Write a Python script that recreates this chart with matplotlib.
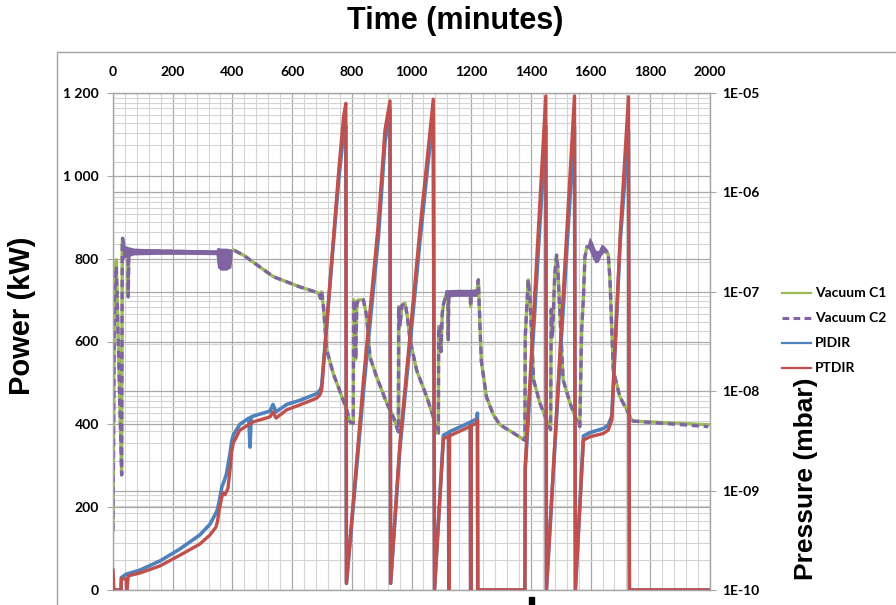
import matplotlib
matplotlib.use("Agg")
import matplotlib.pyplot as plt
import numpy as np
from matplotlib.ticker import FixedLocator, FuncFormatter, NullLocator
from matplotlib.transforms import blended_transform_factory
from matplotlib.lines import Line2D
from matplotlib.patches import Rectangle

plt.rcParams['font.family'] = ['Lato', 'DejaVu Sans']
plt.rcParams['font.weight'] = 'bold'

# ---------------------------------------------------------------- data
# vacuum gauges (mbar, right log axis)
vac_t = [0, 5, 11, 29, 31, 32, 40, 50, 51, 53, 63, 200, 353, 375, 403, 437, 537, 626,
         690, 695, 699, 705, 716, 738, 760, 783, 794, 805, 806, 809, 813, 817, 822, 839,
         850, 861, 883, 917, 939, 956, 957, 961, 968, 978, 985, 995, 1017, 1051, 1073,
         1084, 1090, 1091, 1095, 1099, 1103, 1107, 1118, 1122, 1123, 1125, 1160, 1197,
         1198, 1200, 1218, 1224, 1229, 1234, 1251, 1274, 1296, 1341, 1380, 1381, 1391,
         1397, 1403, 1409, 1430, 1453, 1466, 1468, 1472, 1480, 1486, 1490, 1497, 1508,
         1531, 1553, 1564, 1570, 1576, 1581, 1588, 1600, 1620, 1640, 1659, 1665, 1671,
         1676, 1698, 1721, 1738, 1743, 1994]
vac_c2 = [4.0e-10, 1.0e-7, 1.8e-7, 1.44e-9, 3.0e-7, 3.45e-7, 2.6e-7, 2.55e-7, 8.9e-8, 2.55e-7,
          2.6e-7, 2.55e-7, 2.5e-7, 2.3e-7, 2.64e-7, 2.34e-7, 1.42e-7, 1.12e-7,
          9.7e-8, 8.6e-8, 1.0e-7, 7.1e-8, 2.6e-8, 1.5e-8, 1.0e-8, 6.5e-9, 4.9e-9, 4.75e-9,
          8.3e-8, 8.0e-8, 2.1e-8, 7.5e-8, 8.3e-8, 8.3e-8,
          5.6e-8, 2.2e-8, 1.4e-8, 7.6e-9, 5.5e-9, 3.9e-9, 7.1e-8, 4.5e-8, 7.3e-8, 7.7e-8,
          6.0e-8, 3.3e-8, 1.63e-8, 8.8e-9, 5.5e-9,
          3.8e-9, 3.8e-9, 4.5e-8, 4.5e-8, 2.5e-8, 6.0e-8, 7.5e-8, 9.7e-8, 9.6e-8, 3.3e-8,
          9.6e-8, 9.8e-8, 9.7e-8,
          7.1e-8, 9.6e-8, 9.7e-8, 1.32e-7, 4.8e-8, 2.0e-8, 8.8e-9, 5.8e-9, 4.6e-9, 3.8e-9,
          3.2e-9, 3.5e-8, 1.32e-7,
          8.9e-8, 3.3e-8, 1.3e-8, 7.6e-9, 5.1e-9, 4.1e-9, 6.6e-8, 3.5e-8, 1.5e-7, 2.34e-7,
          1.8e-7, 6.1e-8, 1.3e-8,
          7.6e-9, 5.1e-9, 4.4e-9, 4.1e-8, 8.9e-8, 2.25e-7, 2.84e-7, 2.8e-7, 2.25e-7, 2.7e-7,
          2.4e-7, 1.32e-7, 4.1e-8,
          1.63e-8, 8.8e-9, 6.5e-9, 5.1e-9, 5.0e-9, 4.4e-9]
vac_c1 = list(vac_c2)
vac_c1[2] = 2.1e-7
vac_c1[-1] = 4.6e-9

# noisy stretches of the C2 gauge (upper / lower envelope)
band_a_t = [32, 38, 50, 70, 150, 250, 345, 350, 360, 380, 395, 400]
band_a_hi = [3.4e-7, 2.95e-7, 2.85e-7, 2.75e-7, 2.7e-7, 2.67e-7, 2.64e-7, 2.8e-7, 2.75e-7,
             2.75e-7, 2.7e-7, 2.6e-7]
band_a_lo = [2.0e-7, 2.2e-7, 2.25e-7, 2.35e-7, 2.38e-7, 2.38e-7, 2.36e-7, 1.75e-7, 1.65e-7,
             1.65e-7, 1.75e-7, 2.5e-7]
band_b_t = [1105, 1112, 1150, 1190, 1220]
band_b_hi = [7.0e-8, 1.05e-7, 1.06e-7, 1.06e-7, 1.07e-7]
band_b_lo = [6.0e-8, 8.8e-8, 9.0e-8, 9.0e-8, 9.0e-8]
band_c_t = [1588, 1596, 1606, 1616, 1626, 1636, 1646, 1659]
band_c_hi = [2.9e-7, 3.56e-7, 3.18e-7, 2.64e-7, 2.59e-7, 3.03e-7, 2.9e-7, 2.59e-7]
band_c_lo = [2.9e-7, 2.59e-7, 2.19e-7, 1.95e-7, 2.0e-7, 2.34e-7, 2.52e-7, 2.52e-7]

# power channels (kW, left axis)
ptdir_t = [0, 3, 27, 28, 44, 45, 47, 51, 90, 157, 224, 291, 325, 345, 350, 355, 362, 368,
           375, 385, 392, 398, 403, 425, 470, 526, 536, 546, 582, 626, 682, 693, 699, 733,
           756, 772, 780, 782, 839, 889, 911, 928, 930, 961, 1028, 1051, 1073, 1077, 1107,
           1124, 1125, 1126, 1127, 1197, 1198, 1199, 1200, 1218, 1221, 1222, 1380, 1381,
           1450, 1452, 1492, 1546, 1549, 1576, 1598, 1643, 1659, 1671, 1700, 1727, 1730, 1994]
ptdir = [48, 0, 0, 27, 27, 0, 0, 34, 41, 58, 84, 111, 133, 152, 165, 190, 215, 235,
         230, 245, 290, 335, 355, 386, 406, 418, 430, 415, 435, 447, 463, 471, 483, 800,
         1010, 1140, 1175, 16, 507, 885, 1110, 1181, 16, 354, 869, 1030, 1185, 0, 366,
         370, 0, 0, 372, 395, 0, 0, 396, 403, 410, 0, 0, 300,
         1193, 0, 507, 1193, 0, 362, 370, 378, 386, 410, 869, 1191, 0, 0]

pidir_t = [0, 27, 28, 44, 90, 157, 224, 291, 325, 345, 350, 356, 365, 372, 380, 392, 398,
           403, 425, 455, 459, 463, 470, 526, 536, 546, 582, 626, 682, 693, 699, 733, 756,
           772, 780, 782, 839, 889, 911, 928, 930, 961, 1028, 1051, 1073, 1077, 1107, 1124,
           1125, 1126, 1127, 1197, 1198, 1199, 1200, 1218, 1221, 1222, 1380, 1381, 1450,
           1452, 1492, 1546, 1549, 1576, 1598, 1643, 1659, 1671, 1700, 1727, 1730, 1994]
pidir = [0, 0, 30, 38, 48, 70, 99, 133, 159, 186, 195, 215, 250, 262, 280, 330, 360,
         374, 400, 415, 345, 418, 420, 432, 448, 430, 448, 458, 474, 482, 492, 790, 990,
         1100, 1120, 16, 480, 850, 1080, 1160, 16, 340, 840, 1000, 1150, 0, 374, 380,
         0, 0, 382, 405, 0, 0, 406, 413, 427, 0, 0, 290, 1120,
         0, 490, 1120, 0, 372, 380, 390, 398, 420, 850, 1110, 0, 0]

x_ticks = list(range(0, 2001, 200))
power_ticks = list(range(0, 1201, 200))
pressure_ticks = [1e-10, 1e-9, 1e-8, 1e-7, 1e-6, 1e-5]

GREEN, PURPLE, BLUE, RED = '#9BBB59', '#8064A2', '#4F81BD', '#C0504D'
GRID_MAJOR, GRID_MINOR = '#A8A8A8', '#D4D4D4'

# ---------------------------------------------------------------- figure
fig = plt.figure(figsize=(8.96, 6.05), dpi=100)
L, R = 113 / 896, 710 / 896
B, T = 1 - 590 / 605, 1 - 93 / 605
ax = fig.add_axes([L, B, R - L, T - B])
ax2 = ax.twinx()

# power on top, pressure (with the grid) underneath
ax2.set_zorder(1)
ax.set_zorder(2)
ax.patch.set_visible(False)
ax2.patch.set_visible(True)
ax2.patch.set_facecolor('white')

ax.set_xlim(0, 2000)
ax.set_ylim(0, 1200)
ax2.set_yscale('log')
ax2.set_ylim(1e-10, 1e-5)

# grid lines, all drawn in the lower axes
for t in range(0, 2001, 40):
    major = t % 200 == 0
    ax2.axvline(t, color=GRID_MAJOR if major else GRID_MINOR, lw=0.9 if major else 0.8, zorder=0)
for d in range(-10, -5):
    for k in range(1, 10):
        ax2.axhline(k * 10.0 ** d, color=GRID_MAJOR if k == 1 else GRID_MINOR,
                    lw=0.9 if k == 1 else 0.8, zorder=0)
ax2.axhline(1e-5, color=GRID_MAJOR, lw=0.9, zorder=0)
lin_tr = blended_transform_factory(ax2.transAxes, ax.transData)
for p in power_ticks[1:-1]:
    ax2.add_line(Line2D([0, 1], [p, p], transform=lin_tr, color=GRID_MAJOR, lw=0.9, zorder=0))

# vacuum traces
ax2.plot(vac_t, vac_c1, color=GREEN, lw=2.4, zorder=3)
for bt, bh, bl in ((band_a_t, band_a_hi, band_a_lo), (band_b_t, band_b_hi, band_b_lo),
                   (band_c_t, band_c_hi, band_c_lo)):
    ax2.fill_between(bt, bl, bh, color=PURPLE, lw=0, zorder=3.5)
ax2.plot(vac_t, vac_c2, color=PURPLE, lw=2.4, ls=(0, (2.2, 1.4)), zorder=4)

# power traces
ax.plot(pidir_t, pidir, color=BLUE, lw=2.6, zorder=3)
ax.plot(ptdir_t, ptdir, color=RED, lw=2.4, zorder=4)

# axes styling
for a in (ax, ax2):
    for s in a.spines.values():
        s.set_color(GRID_MAJOR)
        s.set_linewidth(0.9)

ax.xaxis.tick_top()
ax.xaxis.set_major_locator(FixedLocator(x_ticks))
ax.tick_params(axis='x', length=0, pad=11, labelsize=10)
ax.yaxis.set_major_locator(FixedLocator(power_ticks))
ax.yaxis.set_major_formatter(FuncFormatter(lambda v, _: f"{int(v):,}".replace(',', ' ')))
ax.tick_params(axis='y', direction='out', length=4, color=GRID_MAJOR, pad=6, labelsize=10)

ax2.yaxis.set_major_locator(FixedLocator(pressure_ticks))
ax2.yaxis.set_minor_locator(NullLocator())
ax2.yaxis.set_major_formatter(
    FuncFormatter(lambda v, _: f"1E-{int(round(-np.log10(v))):02d}"))
ax2.tick_params(axis='y', direction='out', length=4, color=GRID_MAJOR, pad=5, labelsize=10)

# titles
big = dict(family=['Liberation Sans', 'DejaVu Sans'], weight='bold')
fig.text(455 / 896, 1 - 21 / 605, 'Time (minutes)', fontsize=22, ha='center', va='center', **big)
fig.text(22 / 896, 1 - 316 / 605, 'Power (kW)', fontsize=21, rotation=90,
         ha='center', va='center', **big)
fig.text(806 / 896, 1 - 479 / 605, 'Pressure (mbar)', fontsize=19, rotation=90,
         ha='center', va='center', **big)

# legend
legend_items = [('Vacuum C1', GREEN, '-'), ('Vacuum C2', PURPLE, (0, (2.2, 1.4))),
                ('PIDIR', BLUE, '-'), ('PTDIR', RED, '-')]
for i, (name, col, ls) in enumerate(legend_items):
    yy = 1 - (293 + 25 * i) / 605
    fig.add_artist(Line2D([782 / 896, 811 / 896], [yy, yy], transform=fig.transFigure,
                          color=col, lw=2.2 if i == 1 else 1.6, ls=ls))
    fig.text(815 / 896, yy, name, fontsize=10, ha='left', va='center')

# chart frame and marker below the plot
fig.add_artist(Rectangle((57 / 896, -0.2), 1.0, 1.2 - 52 / 605, transform=fig.transFigure,
                         fill=False, edgecolor='#A0A0A0', lw=1))
fig.add_artist(Rectangle((529 / 896, 0), 5 / 896, 8 / 605, transform=fig.transFigure,
                         color='black'))

fig.savefig('out.png', dpi=100)
